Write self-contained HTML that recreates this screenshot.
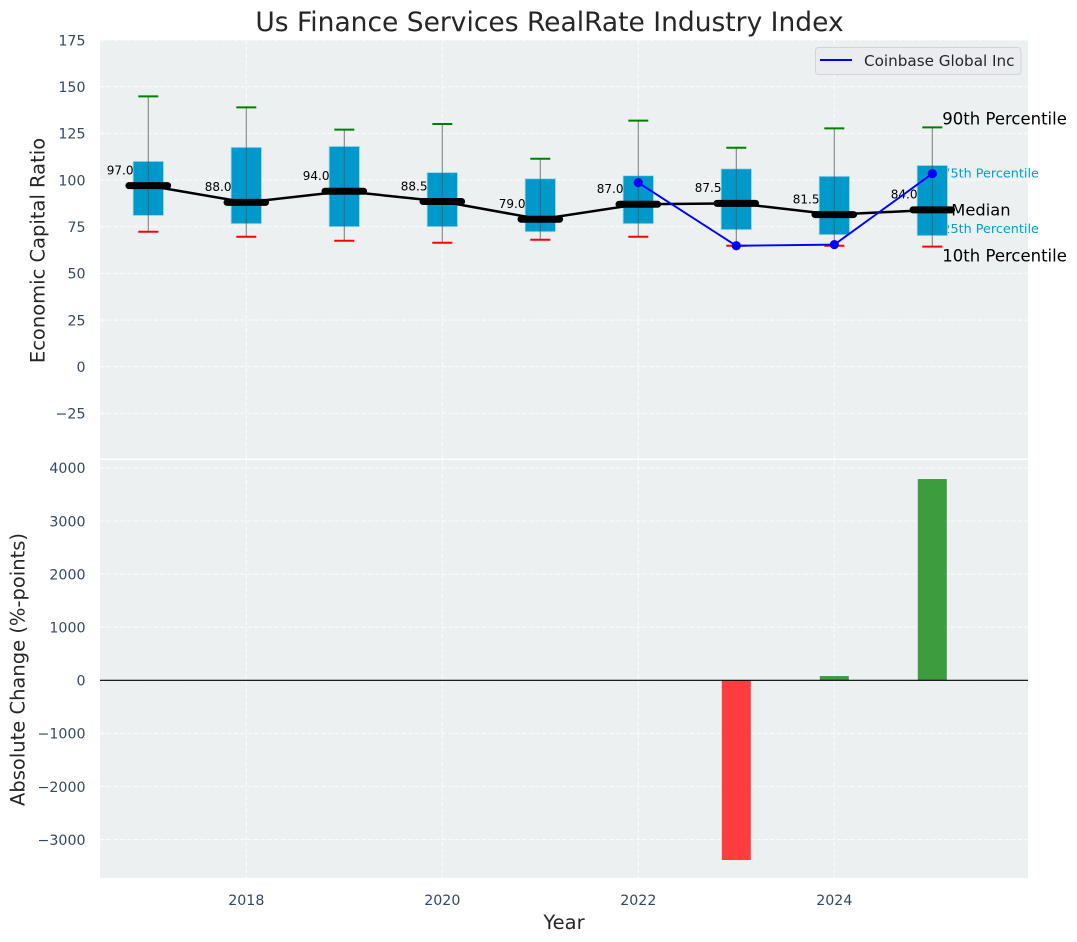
<!DOCTYPE html>
<html lang="en">
<head>
<meta charset="utf-8">
<title>Us Finance Services RealRate Industry Index</title>
<style>
html,body{margin:0;padding:0;background:#fff;width:1077px;height:942px;overflow:hidden}
svg{display:block;font-family:"DejaVu Sans","Liberation Sans",sans-serif}
</style>
</head>
<body>
<svg id="chart" width="1077" height="942" viewBox="0 0 1077 942" xmlns="http://www.w3.org/2000/svg">
  <text x="549.5" y="31" text-anchor="middle" font-size="26.5" fill="#262626">Us Finance Services RealRate Industry Index</text>
  <rect x="100" y="40" width="928" height="418.5" fill="#ecf0f1"/>
  <rect x="100" y="460" width="928" height="418" fill="#ecf0f1"/>
  <g id="grid"></g>
  <g id="ticks"></g>
  <g id="notes"></g>
  <g id="boxes"></g>
  <g id="bars"></g>
  <g id="company"></g>
  <text transform="translate(44.5 250.5) rotate(-90)" text-anchor="middle" font-size="19.5" fill="#262626">Economic Capital Ratio</text>
  <text transform="translate(24.5 669.5) rotate(-90)" text-anchor="middle" font-size="19.5" fill="#262626">Absolute Change (%-points)</text>
  <text x="564" y="929" text-anchor="middle" font-size="19.5" fill="#262626">Year</text>
  <g>
    <rect x="815.5" y="47.5" width="205.5" height="27" rx="3" fill="#eaecf0" stroke="#d2d4d6" stroke-width="1"/>
    <line x1="820" y1="60" x2="852" y2="60" stroke="#0000ff" stroke-width="2"/>
    <text x="864" y="66" font-size="15.2" fill="#262626">Coinbase Global Inc</text>
  </g>
</svg>
<script>
const years = [2017, 2018, 2019, 2020, 2021, 2022, 2023, 2024, 2025];
const p90 = [144.8, 138.9, 127, 130, 111.4, 131.8, 117.3, 127.7, 128.2];
const q3 = [110, 117.5, 118, 104, 100.7, 102.3, 106, 102, 107.8];
const medians = [97, 88, 94, 88.5, 79, 87, 87.5, 81.5, 84];
const q1 = [81, 76.6, 75, 75, 72.3, 76.6, 73.4, 70.7, 70.2];
const p10 = [72.3, 69.6, 67.5, 66.4, 68, 69.6, 64.8, 64.8, 64.3];
const companyYears = [2022, 2023, 2024, 2025];
const companyValues = [98.6, 64.8, 65.4, 103.4];
const changeYears = [2023, 2024, 2025];
const changeValues = [-3384, 80, 3790];
const topTicks = [175, 150, 125, 100, 75, 50, 25, 0, -25];
const bottomTicks = [4000, 3000, 2000, 1000, 0, -1000, -2000, -3000];
const xTicks = [2018, 2020, 2022, 2024];

const NS = 'http://www.w3.org/2000/svg';
const xPos = v => 148.3 + (v - 2017) * 98;
const yTop = v => 366.7 - v * 1.8667;
const yBottom = v => 680.3 - v * 0.0531;
const fmtTick = v => (v < 0 ? '\u2212' + Math.abs(v) : String(v));

function make(parent, tag, attrs, text) {
  const node = document.createElementNS(NS, tag);
  for (const k in attrs) node.setAttribute(k, attrs[k]);
  if (text !== undefined) node.textContent = text;
  document.getElementById(parent).appendChild(node);
  return node;
}
const gridStyle = {stroke: '#ffffff', 'stroke-width': 1.1, 'stroke-dasharray': '4.5 2.2', opacity: 0.85};

topTicks.forEach(t => {
  const g = make('grid', 'line', Object.assign({x1: 100, x2: 1028, y1: yTop(t), y2: yTop(t)}, gridStyle));
  
  
  const l = make('ticks', 'text', {x: 85.5, y: yTop(t) + 5.3, 'text-anchor': 'end', 'font-size': 14.2, fill: '#34495e'}, fmtTick(t));
  
  
});
bottomTicks.forEach(t => {
  const g = make('grid', 'line', Object.assign({x1: 100, x2: 1028, y1: yBottom(t), y2: yBottom(t)}, gridStyle));
  
  
  const l = make('ticks', 'text', {x: 85.5, y: yBottom(t) + 5.3, 'text-anchor': 'end', 'font-size': 14.2, fill: '#34495e'}, fmtTick(t));
  
  
});
xTicks.forEach(t => {
  const a = make('grid', 'line', Object.assign({x1: xPos(t), x2: xPos(t), y1: 40, y2: 458.5}, gridStyle));
  
  
  const b = make('grid', 'line', Object.assign({x1: xPos(t), x2: xPos(t), y1: 460, y2: 878}, gridStyle));
  
  
  const l = make('ticks', 'text', {x: xPos(t), y: 905, 'text-anchor': 'middle', 'font-size': 14.2, fill: '#34495e'}, String(t));
  
  
});

/* percentile annotations beside the final box */
const last = years.length - 1;
const lx = xPos(years[last]);
const n90 = make('notes', 'text', {x: lx + 10, y: yTop(p90[last]) - 3, 'font-size': 16.5, fill: '#000'}, '90th Percentile');


const n75 = make('notes', 'text', {x: lx + 10, y: yTop(q3[last]) + 12, 'font-size': 12.8, fill: '#00a0d2'}, '75th Percentile');


const n25 = make('notes', 'text', {x: lx + 10, y: yTop(q1[last]) - 2.5, 'font-size': 12.8, fill: '#00a0d2'}, '25th Percentile');


const n10 = make('notes', 'text', {x: lx + 10, y: yTop(p10[last]) + 15, 'font-size': 16.5, fill: '#000'}, '10th Percentile');


const nm = make('notes', 'text', {x: lx + 19, y: yTop(medians[last]) + 5.5, 'font-size': 16.3, fill: '#000'}, 'Median');



/* boxes */
years.forEach((y, i) => {
  const x = xPos(y);
  const box = make('boxes', 'rect', {x: x - 15.2, y: yTop(q3[i]), width: 30.4, height: yTop(q1[i]) - yTop(q3[i]), fill: '#0099cc', stroke: '#a9d9e8', 'stroke-width': 0.8});
  
  
  const whisker = make('boxes', 'line', {x1: x, x2: x, y1: yTop(p90[i]), y2: yTop(p10[i]), stroke: '#555555', 'stroke-opacity': 0.7, 'stroke-width': 1.1});
  
  
  const capHigh = make('boxes', 'line', {x1: x - 10, x2: x + 10, y1: yTop(p90[i]), y2: yTop(p90[i]), stroke: '#008000', 'stroke-width': 2});
  
  
  const capLow = make('boxes', 'line', {x1: x - 10, x2: x + 10, y1: yTop(p10[i]), y2: yTop(p10[i]), stroke: '#ff0000', 'stroke-width': 2});
  
  
});

const medianPath = make('boxes', 'polyline', {points: years.map((y, i) => xPos(y) + ',' + yTop(medians[i])).join(' '), fill: 'none', stroke: '#000', 'stroke-width': 2.5});



years.forEach((y, i) => {
  const x = xPos(y);
  const seg = make('boxes', 'line', {x1: x - 19.3, x2: x + 19.3, y1: yTop(medians[i]), y2: yTop(medians[i]), stroke: '#000', 'stroke-width': 7, 'stroke-linecap': 'round'});
  
  
  const lab = make('boxes', 'text', {x: x - 14.8, y: yTop(medians[i]) - 11.2, 'text-anchor': 'end', 'font-size': 12, fill: '#000'}, medians[i].toFixed(1));
  
  
});

/* change bars */
changeYears.forEach((y, i) => {
  const v = changeValues[i];
  const top = v >= 0 ? yBottom(v) : yBottom(0);
  const h = Math.abs(yBottom(v) - yBottom(0));
  const bar = make('bars', 'rect', {x: xPos(y) - 14.5, y: top, width: 29, height: h, fill: v >= 0 ? '#3c9c3e' : '#ff3c3e'});
  
  
});
const zero = make('bars', 'line', {x1: 100, x2: 1028, y1: yBottom(0), y2: yBottom(0), stroke: '#000', 'stroke-width': 1.1});



/* company series */
const companyLine = make('company', 'polyline', {points: companyYears.map((y, i) => xPos(y) + ',' + yTop(companyValues[i])).join(' '), fill: 'none', stroke: '#0000ff', 'stroke-width': 1.9});


companyYears.forEach((y, i) => {
  const p = make('company', 'circle', {cx: xPos(y), cy: yTop(companyValues[i]), r: 4.6, fill: '#0000ff'});
  
  
});
</script>
</body>
</html>
